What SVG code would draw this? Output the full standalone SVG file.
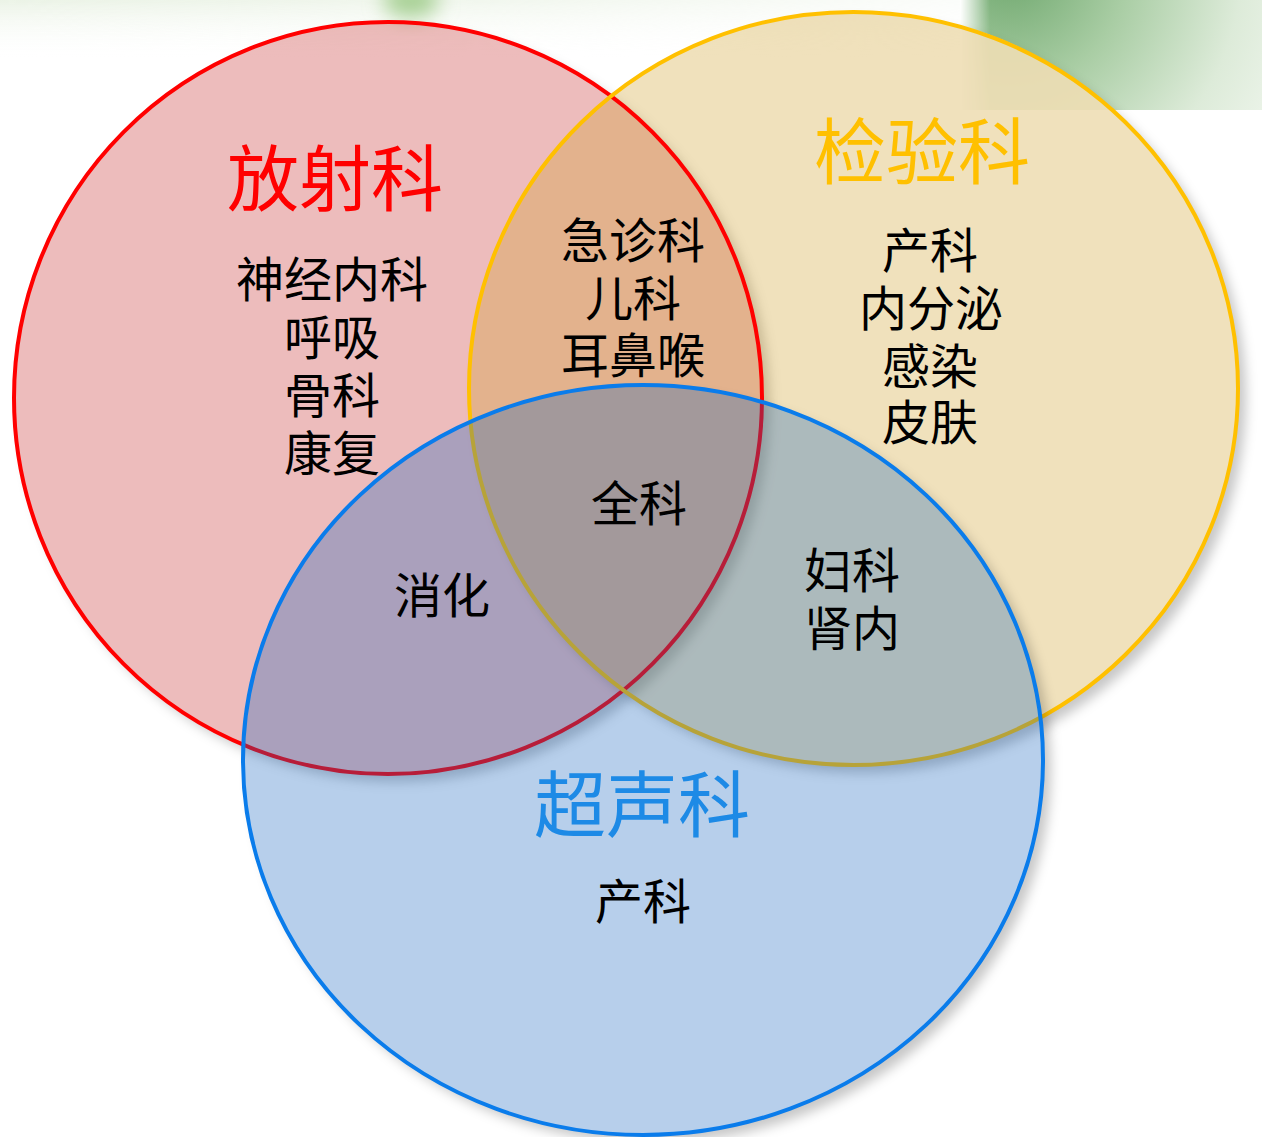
<svg xmlns="http://www.w3.org/2000/svg" width="1262" height="1137" viewBox="0 0 1262 1137">
<style>
  .title { font-family: "Noto Sans CJK SC", "Noto Sans CJK TC", sans-serif; font-size: 72px; text-anchor: middle; }
  .body { font-family: "Noto Sans CJK SC", "Noto Sans CJK TC", sans-serif; font-size: 48px; text-anchor: middle; fill: #000; }
  .shadow { fill: #000; fill-opacity: 0.22; filter: url(#blur); }
  .edge { fill: none; stroke-width: 4; }
</style>
<defs>
  <filter id="blur" x="-10%" y="-10%" width="120%" height="120%">
    <feGaussianBlur stdDeviation="6"/>
  </filter>
  <filter id="soft" x="-50%" y="-50%" width="200%" height="200%">
    <feGaussianBlur stdDeviation="10"/>
  </filter>
  <radialGradient id="greenTR" gradientUnits="userSpaceOnUse" cx="1010" cy="-30" r="330">
    <stop offset="0" stop-color="#6FA86E"/>
    <stop offset="0.35" stop-color="#A9CDA4"/>
    <stop offset="0.7" stop-color="#DDEBD9"/>
    <stop offset="1" stop-color="#F3F8F1"/>
  </radialGradient>
  <linearGradient id="fadeL" gradientUnits="userSpaceOnUse" x1="960" y1="0" x2="990" y2="0">
    <stop offset="0" stop-color="#fff" stop-opacity="0"/>
    <stop offset="1" stop-color="#fff" stop-opacity="1"/>
  </linearGradient>
  <mask id="maskTR">
    <rect x="940" y="0" width="322" height="110" fill="url(#fadeL)"/>
    <ellipse cx="853.5" cy="388.5" rx="386" ry="378" fill="#000" fill-opacity="0.85"/>
  </mask>
  <linearGradient id="topWash" gradientUnits="userSpaceOnUse" x1="0" y1="0" x2="0" y2="60">
    <stop offset="0" stop-color="#E6F0E0" stop-opacity="0.8"/>
    <stop offset="1" stop-color="#FFFFFF" stop-opacity="0"/>
  </linearGradient>
  <linearGradient id="washFade" gradientUnits="userSpaceOnUse" x1="0" y1="0" x2="960" y2="0">
    <stop offset="0" stop-color="#fff" stop-opacity="1"/>
    <stop offset="0.5" stop-color="#fff" stop-opacity="0.7"/>
    <stop offset="1" stop-color="#fff" stop-opacity="0.2"/>
  </linearGradient>
  <mask id="maskWash">
    <rect x="0" y="0" width="960" height="60" fill="url(#washFade)"/>
  </mask>
  <mask id="outR">
    <rect width="1262" height="1137" fill="#fff"/>
    <ellipse cx="388" cy="398" rx="374" ry="376" fill="#000"/>
  </mask>
  <mask id="outY">
    <rect width="1262" height="1137" fill="#fff"/>
    <ellipse cx="853.5" cy="388.5" rx="384.5" ry="376.5" fill="#000"/>
  </mask>
  <mask id="outB">
    <rect width="1262" height="1137" fill="#fff"/>
    <ellipse cx="643" cy="760" rx="400" ry="375" fill="#000"/>
  </mask>
</defs>

<rect width="1262" height="1137" fill="#FFFFFF"/>

<g id="background">
  <rect x="0" y="0" width="960" height="60" fill="url(#topWash)" mask="url(#maskWash)"/>
  <rect x="940" y="0" width="322" height="110" fill="url(#greenTR)" mask="url(#maskTR)"/>
  <ellipse cx="411" cy="0" rx="28" ry="18" fill="#A9D196" filter="url(#soft)"/>
</g>

<g id="circle-radiology-fill">
  <g mask="url(#outR)"><ellipse class="shadow" cx="396" cy="406" rx="374" ry="376"/></g>
  <ellipse cx="388" cy="398" rx="374" ry="376" fill="#C32020" fill-opacity="0.3"/>
</g>

<g id="circle-lab-fill">
  <g mask="url(#outY)"><ellipse class="shadow" cx="861.5" cy="396.5" rx="384.5" ry="376.5"/></g>
  <ellipse cx="853.5" cy="388.5" rx="384.5" ry="376.5" fill="#CD9B20" fill-opacity="0.3"/>
</g>

<g id="circle-edges-ry">
  <ellipse class="edge" cx="388" cy="398" rx="374" ry="376" stroke="#FF0000"/>
  <ellipse class="edge" cx="853.5" cy="388.5" rx="384.5" ry="376.5" stroke="#FFC000"/>
</g>

<g id="circle-ultrasound">
  <g mask="url(#outB)"><ellipse class="shadow" cx="651" cy="768" rx="400" ry="375"/></g>
  <ellipse cx="643" cy="760" rx="400" ry="375" fill="#0F5FBC" fill-opacity="0.3"/>
  <ellipse class="edge" cx="643" cy="760" rx="400" ry="375" stroke="#0A7CEB"/>
</g>

<g id="label-radiology">
  <text class="title" x="335" y="205" fill="#FF0000">放射科</text>
  <text class="body" x="332" y="297">神经内科</text>
  <text class="body" x="332" y="355">呼吸</text>
  <text class="body" x="332" y="413">骨科</text>
  <text class="body" x="332" y="471">康复</text>
</g>

<g id="label-lab">
  <text class="title" x="922" y="178" fill="#FFC000">检验科</text>
  <text class="body" x="930" y="268">产科</text>
  <text class="body" x="931" y="326">内分泌</text>
  <text class="body" x="930" y="384">感染</text>
  <text class="body" x="930" y="440">皮肤</text>
</g>

<g id="label-ultrasound">
  <text class="title" x="642" y="831" fill="#1D8AE6">超声科</text>
  <text class="body" x="643" y="919">产科</text>
</g>

<g id="label-overlaps">
  <text class="body" x="633" y="258">急诊科</text>
  <text class="body" x="633" y="316">儿科</text>
  <text class="body" x="633" y="373">耳鼻喉</text>
  <text class="body" x="639" y="521">全科</text>
  <text class="body" x="442" y="613">消化</text>
  <text class="body" x="852" y="588">妇科</text>
  <text class="body" x="852" y="646">肾内</text>
</g>
</svg>
